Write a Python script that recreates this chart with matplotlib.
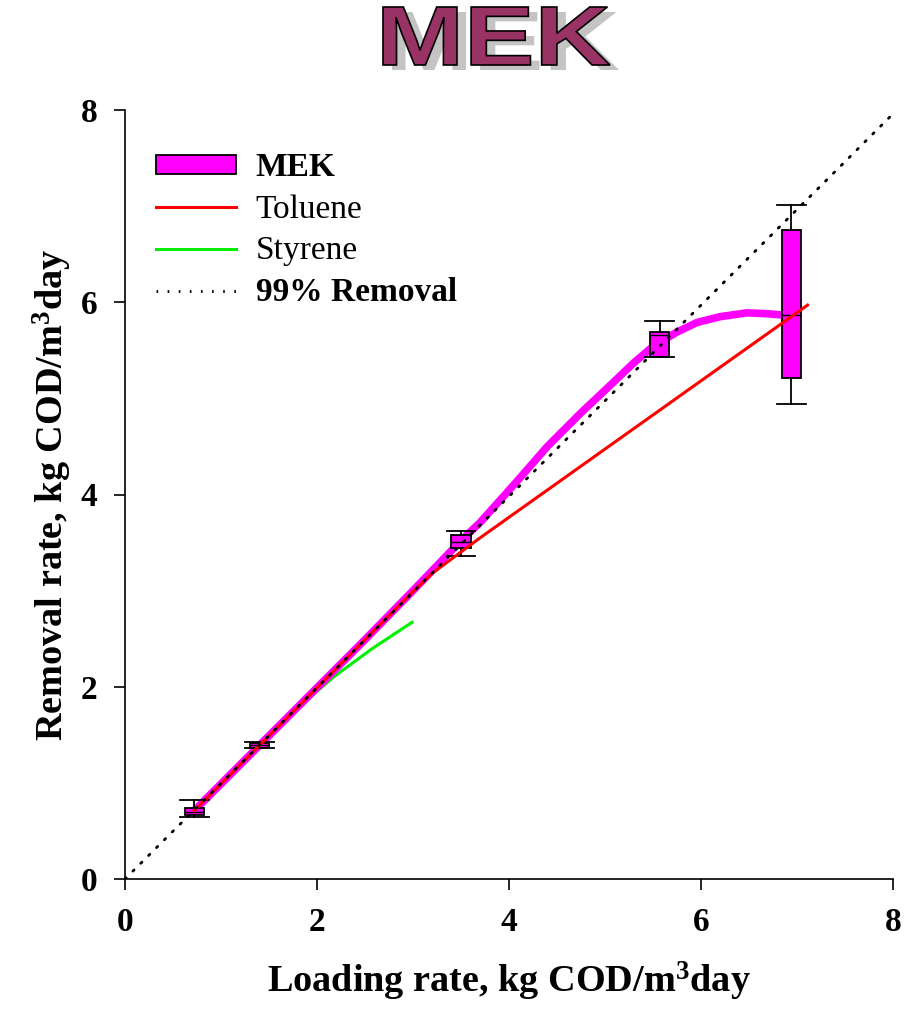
import matplotlib
matplotlib.use("Agg")
import matplotlib.pyplot as plt
from matplotlib.patches import Patch, PathPatch
from matplotlib.lines import Line2D
from matplotlib.textpath import TextPath
from matplotlib.font_manager import FontProperties
from matplotlib.transforms import Affine2D

# Data
mek_x = [0.72, 1.40, 2.50, 3.00, 3.50, 3.70, 4.05, 4.40, 4.75, 5.08, 5.30, 5.50, 5.75, 5.96, 6.20, 6.48, 6.70, 6.93]
mek_y = [0.71, 1.39, 2.49, 3.00, 3.52, 3.71, 4.10, 4.50, 4.85, 5.16, 5.37, 5.54, 5.69, 5.79, 5.85, 5.89, 5.88, 5.86]

toluene_x = [0.72, 1.40, 2.50, 3.00, 3.20, 3.70, 7.11]
toluene_y = [0.71, 1.39, 2.49, 2.99, 3.18, 3.55, 5.97]

styrene_x = [1.60, 2.17, 2.58, 2.99]
styrene_y = [1.60, 2.10, 2.40, 2.67]

removal_x = [0.0, 8.0]
removal_y = [0.0, 7.96]

box_pos = [0.72, 1.40, 3.50, 5.57, 6.94]
box_q1 = [0.67, 1.36, 3.44, 5.43, 5.21]
box_q3 = [0.74, 1.42, 3.58, 5.69, 6.75]
box_med = [0.70, 1.39, 3.51, 5.66, 5.87]
box_lo = [0.65, 1.36, 3.36, 5.43, 4.94]
box_hi = [0.82, 1.43, 3.62, 5.80, 7.01]

ticks = [0, 2, 4, 6, 8]
legend_labels = ["MEK", "Toluene", "Styrene", "99% Removal"]

plt.rcParams["font.family"] = ["Liberation Serif", "DejaVu Serif"]
plt.rcParams["mathtext.fontset"] = "custom"
plt.rcParams["mathtext.rm"] = "Liberation Serif:bold"
plt.rcParams["mathtext.default"] = "regular"

fig = plt.figure(figsize=(9.14, 10.09), dpi=100)
ax = fig.add_axes([125 / 914, 1 - 879 / 1009, 768 / 914, 769 / 1009])

# MEK smoothed line under the boxes
ax.plot(mek_x, mek_y, color="#ff00ff", lw=5.5, solid_capstyle="butt",
        solid_joinstyle="round", zorder=2)

stats = []
for i in range(len(box_pos)):
    stats.append(dict(med=box_med[i], q1=box_q1[i], q3=box_q3[i],
                      whislo=box_lo[i], whishi=box_hi[i], fliers=[]))
ax.bxp(stats, positions=box_pos, widths=0.2, capwidths=0.3, patch_artist=True,
       showfliers=False, manage_ticks=False,
       boxprops=dict(facecolor="#ff00ff", edgecolor="black", lw=1.3),
       whiskerprops=dict(color="black", lw=1.3),
       capprops=dict(color="black", lw=1.3),
       medianprops=dict(color="black", lw=1.0),
       zorder=3)

ax.plot(toluene_x, toluene_y, color="#ff0000", lw=2.2, zorder=4)
ax.plot(styrene_x, styrene_y, color="#00ee00", lw=2.2, zorder=1)
ax.plot(removal_x, removal_y, color="black", lw=2, linestyle=(0, (0.6, 3.4)),
        dash_capstyle="round", zorder=5)

ax.set_xlim(0, 8)
ax.set_ylim(0, 8)
ax.set_xticks(ticks)
ax.set_yticks(ticks)
ax.spines["top"].set_visible(False)
ax.spines["right"].set_visible(False)
for s in ["left", "bottom"]:
    ax.spines[s].set_linewidth(1.2)
ax.tick_params(direction="out", length=8, width=1.2, labelsize=24, pad=12)
for lab in ax.get_xticklabels() + ax.get_yticklabels():
    lab.set_fontweight("bold")

ax.set_xlabel("Loading rate, kg COD/m$^{3}$day", fontsize=27.5, fontweight="bold", labelpad=16)
ax.set_ylabel("Removal rate, kg COD/m$^{3}$day", fontsize=27.5, fontweight="bold", labelpad=5)

handles = [Patch(facecolor="#ff00ff", edgecolor="black", lw=1.3),
           Line2D([], [], color="#ff0000", lw=2.2),
           Line2D([], [], color="#00ee00", lw=2.2),
           Line2D([], [], color="black", lw=2, linestyle=(0, (0.6, 3.4)))]
leg = ax.legend(handles, legend_labels, loc="upper left", bbox_to_anchor=(0.04, 0.945),
                frameon=False, fontsize=24, handlelength=2.4, handleheight=0.5,
                handletextpad=0.6, labelspacing=0.33, borderpad=0, borderaxespad=0)
for t, w in zip(leg.get_texts(), ["bold", "normal", "normal", "bold"]):
    t.set_fontweight(w)

# WordArt-like title
tp = TextPath((0, 0), "MEK", size=81, prop=FontProperties(family="Liberation Sans", weight="bold"))
ext = tp.get_extents()
sx = 227 / ext.width
sy = 58 / ext.height
x0 = 383 - ext.x0 * sx
y0 = 1009 - 65 - ext.y0 * sy
shadow = PathPatch(tp, facecolor="#c4c4c4", edgecolor="none",
                   transform=Affine2D().scale(sx, sy).translate(x0 + 9, y0 - 5))
front = PathPatch(tp, facecolor="#993366", edgecolor="black", lw=1.2,
                  transform=Affine2D().scale(sx, sy).translate(x0, y0))
fig.add_artist(shadow)
fig.add_artist(front)

fig.savefig("out.png", dpi=100)
